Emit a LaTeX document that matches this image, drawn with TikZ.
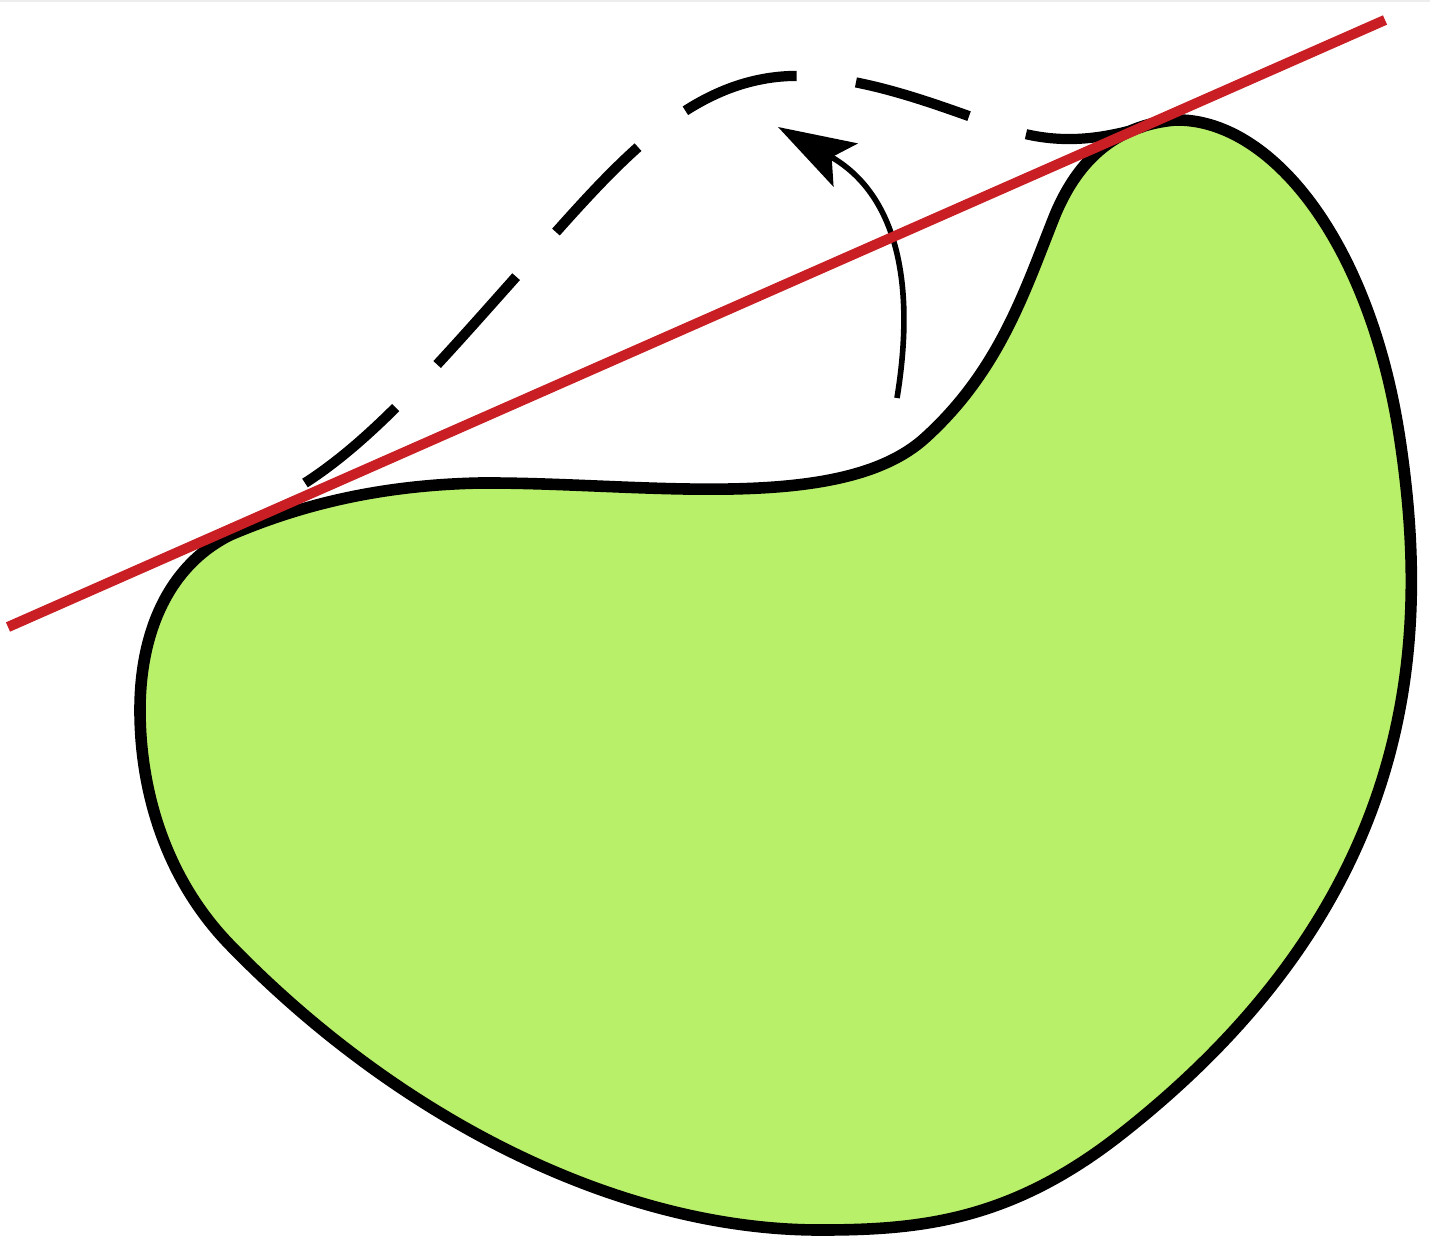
\documentclass[tikz,border=0pt]{standalone}
\usetikzlibrary{arrows.meta}
\definecolor{blobgreen}{RGB}{184,240,106}
\definecolor{hullred}{RGB}{200,30,36}
\begin{document}
\begin{tikzpicture}[x=0.01cm,y=-0.01cm]
\useasboundingbox(0,0)rectangle(1430,1242);
\draw[line width=0.3pt,black!7](0,1)--(1430,1);
%
\draw[line width=3.3pt,fill=blobgreen](230,535)
  ..controls(300,505)and(380,485)..(480,483)
  ..controls(640,482)and(840,515)..(925,438)
  ..controls(1000,370)and(1025,290)..(1055,215)
  ..controls(1080,155)and(1120,125)..(1175,120)
  ..controls(1270,118)and(1370,240)..(1400,440)
  ..controls(1430,640)and(1420,900)..(1120,1135)
  ..controls(1010,1221)and(920,1230)..(820,1230)
  ..controls(620,1230)and(400,1120)..(230,945)
  ..controls(165,878)and(140,790)..(140,710)
  ..controls(140,630)and(170,565)..cycle;
%
\draw[line width=2.9pt,dash pattern=on 33.6pt off 17pt](305,483)
  ..controls(380,435)and(450,350)..(540,250)
  ..controls(620,160)and(690,80)..(790,76)
  ..controls(870,74)and(960,115)..(1010,130)
  ..controls(1060,145)and(1100,140)..(1150,125);
\draw[line width=1.6pt,-{Stealth[length=22pt,width=14pt,inset=4.5pt]}](897,398)
  ..controls(918,270)and(890,190)..(778,127);
%
\draw[line width=2.9pt,hullred](8,627)--(1385,20);
\end{tikzpicture}
\end{document}
